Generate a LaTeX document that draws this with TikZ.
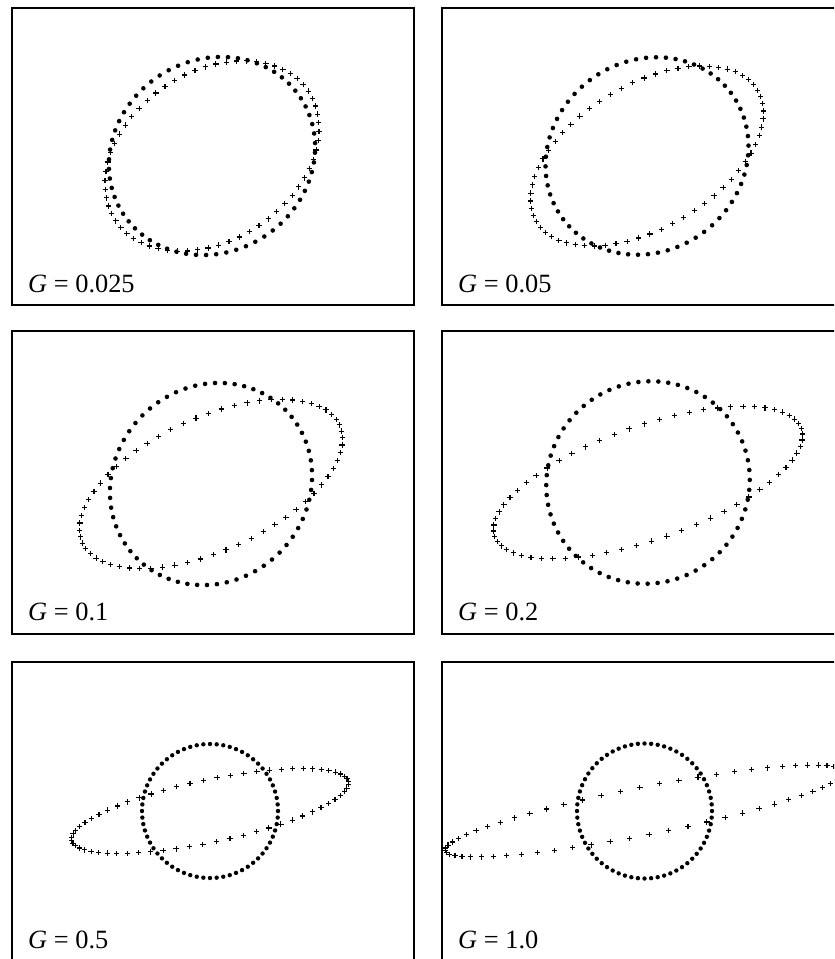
\documentclass[tikz,border=0pt]{standalone}
\usepackage{fontspec}
\setmainfont{Liberation Serif}

\tikzset{
  frm/.style={line width=1.7pt},
  lbl/.style={anchor=base west,inner sep=0pt,font=\fontsize{22.5}{26}\selectfont},
  crs/.style={line width=0.95pt},
}

\begin{document}
\begin{tikzpicture}[x=0.03cm,y=-0.03cm]
  \useasboundingbox (0,0) rectangle (834,959);
  \clip (0,0) rectangle (834,959);
  % panel: name/left/top/bottom/baseline/value/dots (cx,cy,a,b,angle)/crosses (a,b,angle)/dot radius
  \foreach \n/\fx/\fy/\fb/\lb/\val/\cx/\cy/\da/\db/\dt/\ca/\cb/\ct/\r in {
    a/12/8/305/292/0.025/212/156/106/96/33/116/84/34/2.3,
    b/442/8/305/292/0.05/647/156/105/95/37/128.6/71.6/30.7/2.3,
    c/12/331/634/620/0.1/211/484/105/97/45/141.5/66.5/24.7/2.3,
    d/442/331/634/620/0.2/648/482.5/103/100/40/162.6/56.8/19.4/2.3,
    e/12/662/975/948/0.5/210/811/68/67/0/141.4/31.3/12/2.2,
    f/442/662/975/948/1.0/644.5/811/67.5/67.5/0/203.3/23.9/11.2/2.2}
  {
    \draw[frm] (\fx,\fy) rectangle (\fx+402,\fb);
    \node[lbl] (g\n) at (\fx+16,\lb) {\textit{G} = \val};
    \foreach \k in {0,...,63} {
      \pgfmathsetmacro\ang{\k*5.625}
      % crosses
      \draw[crs] ({\cx+\ca*cos(\ang)*cos(\ct)-\cb*sin(\ang)*sin(\ct)},
                  {\cy-\ca*cos(\ang)*sin(\ct)-\cb*sin(\ang)*cos(\ct)})
        ++(-0.08cm,0) -- ++(0.16cm,0) ++(-0.08cm,-0.08cm) -- ++(0,0.16cm);
      % dots
      \fill ({\cx+\da*cos(\ang)*cos(\dt)-\db*sin(\ang)*sin(\dt)},
             {\cy-\da*cos(\ang)*sin(\dt)-\db*sin(\ang)*cos(\dt)}) circle (\r*0.03cm);
    }
  }
\end{tikzpicture}
\end{document}
